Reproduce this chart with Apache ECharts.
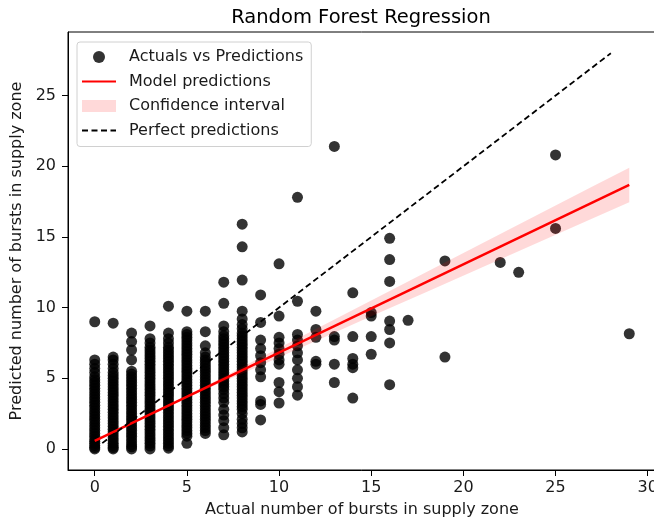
<!DOCTYPE html>
<html>
<head>
<meta charset="utf-8">
<script src="https://cdn.jsdelivr.net/npm/echarts@6/dist/echarts.min.js"></script>
<style>
  html, body { margin: 0; padding: 0; background: #fff; }
  #main { width: 654px; height: 524px; }
</style>
</head>
<body>
<div id="main"></div>
<script>
// predicted values for each actual number of bursts
var pred0 = [0, 0.1, 0.25, 0.4, 0.55, 0.7, 0.9, 1.1, 1.3, 1.5, 1.7, 1.9, 2.1, 2.3, 2.5, 2.7, 2.9, 3.1, 3.3, 3.5, 3.7, 3.9, 4.1, 4.3, 4.5, 4.7, 4.9, 5.1, 5.4, 5.7, 6.0, 6.3, 9.0];
var pred1 = [0, 0.1, 0.25, 0.4, 0.6, 0.8, 1.0, 1.2, 1.4, 1.6, 1.8, 2.0, 2.2, 2.4, 2.6, 2.8, 3.0, 3.2, 3.4, 3.6, 3.8, 4.0, 4.2, 4.4, 4.6, 4.8, 5.0, 5.2, 5.4, 5.7, 6.0, 6.3, 6.5, 8.9];
var pred2 = [0, 0.15, 0.3, 0.5, 0.7, 0.9, 1.1, 1.3, 1.5, 1.7, 1.9, 2.1, 2.3, 2.5, 2.7, 2.9, 3.1, 3.3, 3.5, 3.7, 3.9, 4.1, 4.3, 4.5, 4.7, 4.9, 5.1, 5.3, 5.5, 6.3, 7.0, 7.6, 8.2];
var pred3 = [0, 0.2, 0.4, 0.6, 0.8, 1.0, 1.2, 1.4, 1.6, 1.8, 2.0, 2.2, 2.4, 2.6, 2.8, 3.0, 3.2, 3.4, 3.6, 3.8, 4.0, 4.2, 4.4, 4.6, 4.8, 5.0, 5.2, 5.4, 5.6, 5.8, 6.0, 6.2, 6.4, 6.6, 6.8, 7.0, 7.2, 7.5, 7.8, 8.7];
var pred4 = [0.05, 0.2, 0.4, 0.6, 0.8, 1.0, 1.2, 1.4, 1.6, 1.8, 2.0, 2.2, 2.4, 2.6, 2.8, 3.0, 3.2, 3.4, 3.6, 3.8, 4.0, 4.2, 4.4, 4.6, 4.8, 5.0, 5.2, 5.4, 5.6, 5.8, 6.0, 6.2, 6.4, 6.6, 6.8, 7.0, 7.2, 7.5, 7.8, 8.2, 10.1];
var pred5 = [0.4, 0.9, 1.1, 1.3, 1.5, 1.7, 1.9, 2.1, 2.3, 2.5, 2.7, 2.9, 3.1, 3.3, 3.5, 3.7, 3.9, 4.1, 4.3, 4.5, 4.7, 4.9, 5.1, 5.3, 5.5, 5.7, 5.9, 6.1, 6.3, 6.5, 6.7, 6.9, 7.1, 7.3, 7.5, 7.7, 7.9, 8.1, 8.3, 9.75];
var pred6 = [1.1, 1.3, 1.5, 1.7, 1.9, 2.1, 2.3, 2.5, 2.7, 2.9, 3.1, 3.3, 3.5, 3.7, 3.9, 4.1, 4.3, 4.5, 4.7, 4.9, 5.1, 5.3, 5.5, 5.7, 5.9, 6.1, 6.3, 6.5, 6.8, 7.3, 8.3, 9.75];
var pred7 = [1.0, 1.5, 2.0, 2.4, 2.8, 3.3, 3.6, 3.9, 4.2, 4.4, 4.6, 4.8, 5.0, 5.2, 5.4, 5.6, 5.8, 6.0, 6.2, 6.4, 6.6, 6.8, 7.0, 7.2, 7.4, 7.6, 7.8, 8.0, 8.3, 8.7, 10.3, 11.8];
var pred8 = [1.2, 1.5, 1.8, 2.1, 2.5, 2.8, 3.0, 3.2, 3.4, 3.6, 3.8, 4.0, 4.2, 4.4, 4.6, 4.8, 5.0, 5.2, 5.4, 5.6, 5.8, 6.0, 6.2, 6.4, 6.6, 6.8, 7.0, 7.2, 7.4, 7.6, 7.8, 8.0, 8.2, 8.5, 8.8, 9.2, 9.75, 11.95, 14.3, 15.9];
var pred9 = [2.05, 3.15, 3.4, 5.1, 5.6, 6.1, 6.6, 7.1, 7.7, 8.95, 10.9];
var pred10 = [3.25, 4.05, 4.7, 6.0, 6.3, 6.7, 7.1, 7.5, 7.9, 9.4, 13.1];
var pred11 = [3.8, 4.4, 5.0, 5.6, 6.3, 6.8, 7.3, 7.7, 8.1, 10.45, 17.8];
var pred12 = [6.0, 6.2, 7.9, 8.45, 9.75];
var pred13 = [4.7, 6.0, 7.7, 7.95, 21.4];
var pred14 = [3.6, 5.75, 6.0, 6.4, 7.95, 11.05];
var pred15 = [6.7, 7.95, 9.4, 9.65];
var pred16 = [4.55, 7.5, 8.45, 9.05, 11.85, 13.4, 14.9];
var pred17 = [9.1];
var pred19 = [6.5, 13.3];
var pred22 = [13.2];
var pred23 = [12.5];
var pred25 = [15.6, 20.8];
var pred29 = [8.15];

var actualValues = [0, 1, 2, 3, 4, 5, 6, 7, 8, 9, 10, 11, 12, 13, 14, 15, 16, 17, 19, 22, 23, 25, 29];
var predictedColumns = [pred0, pred1, pred2, pred3, pred4, pred5, pred6, pred7, pred8, pred9, pred10, pred11,
  pred12, pred13, pred14, pred15, pred16, pred17, pred19, pred22, pred23, pred25, pred29];

// fitted line and its confidence band
var fitX = [0, 29];
var fitY = [0.57, 18.68];
var bandX = [0, 3, 6, 9, 12, 15, 18, 21, 24, 27, 29];
var bandLow = [0.49, 2.40, 4.20, 5.91, 7.64, 9.38, 11.10, 12.83, 14.57, 16.30, 17.46];
var bandHigh = [0.65, 2.48, 4.44, 6.47, 8.48, 10.50, 12.52, 14.53, 16.55, 18.56, 19.90];

// perfect predictions
var perfectX = [0, 28];
var perfectY = [0, 28];

var xTicks = [0, 5, 10, 15, 20, 25, 30];
var yTicks = [0, 5, 10, 15, 20, 25];

var scatterData = [];
for (var i = 0; i < actualValues.length; i++) {
  for (var j = 0; j < predictedColumns[i].length; j++) {
    scatterData.push([actualValues[i], predictedColumns[i][j]]);
  }
}
var fitData = fitX.map(function (x, k) { return [x, fitY[k]]; });
var perfectData = perfectX.map(function (x, k) { return [x, perfectY[k]]; });
var bandData = bandX.map(function (x, k) { return [x, bandLow[k], bandHigh[k]]; });

var font = "DejaVu Sans";
var chart = echarts.init(document.getElementById("main"));

chart.setOption({
  animation: false,
  textStyle: { fontFamily: font },
  title: {
    text: "Random Forest Regression",
    left: 361,
    top: 8,
    padding: 0,
    textAlign: "center",
    textStyle: { fontFamily: font, fontSize: 19.5, fontWeight: "normal", color: "#000" }
  },
  legend: {
    orient: "vertical",
    left: 77,
    top: 42,
    padding: [7, 8, 8, 4],
    itemGap: 8.5,
    itemWidth: 34,
    itemHeight: 12,
    borderColor: "#d0d0d0",
    borderWidth: 1,
    borderRadius: 3,
    backgroundColor: "rgba(255,255,255,0.8)",
    textStyle: { fontFamily: font, fontSize: 16, lineHeight: 16, color: "#1a1a1a", padding: [0, 0, 0, 8] },
    data: [
      { name: "Actuals vs Predictions", icon: "circle" },
      { name: "Model predictions", itemStyle: { opacity: 0 } },
      { name: "Confidence interval", icon: "rect" },
      { name: "Perfect predictions", itemStyle: { opacity: 0 } }
    ]
  },
  grid: {
    left: 68, top: 32, width: 588, height: 438,
    outerBoundsMode: "none",
    show: true, borderColor: "#000", borderWidth: 1
  },
  xAxis: {
    type: "value",
    min: -1.45,
    max: 30.45,
    name: "Actual number of bursts in supply zone",
    nameLocation: "middle",
    nameGap: 32,
    nameTextStyle: { fontFamily: font, fontSize: 16, color: "#1a1a1a" },
    splitLine: { show: false },
    axisLine: { show: true, onZero: false, lineStyle: { color: "#000" } },
    axisTick: { show: true, length: 6, lineStyle: { color: "#000" }, customValues: xTicks },
    axisLabel: { fontFamily: font, fontSize: 16, color: "#1a1a1a", margin: 10, customValues: xTicks }
  },
  yAxis: {
    type: "value",
    min: -1.49,
    max: 29.5,
    name: "Predicted number of bursts in supply zone",
    nameLocation: "middle",
    nameGap: 39,
    nameTextStyle: { fontFamily: font, fontSize: 16, color: "#1a1a1a" },
    splitLine: { show: false },
    axisLine: { show: true, onZero: false, lineStyle: { color: "#000" } },
    axisTick: { show: true, length: 6, lineStyle: { color: "#000" }, customValues: yTicks },
    axisLabel: { fontFamily: font, fontSize: 16, color: "#1a1a1a", margin: 12, customValues: yTicks }
  },
  series: [
    {
      name: "Actuals vs Predictions",
      type: "scatter",
      symbolSize: 11,
      itemStyle: { color: "#000", opacity: 0.8 },
      data: scatterData,
      z: 2
    },
    {
      name: "Confidence interval",
      type: "custom",
      itemStyle: { color: "rgba(255,0,0,0.15)" },
      encode: { x: 0, y: [1, 2] },
      data: bandData,
      z: 3,
      renderItem: function (params, api) {
        if (params.dataIndex !== 0) return;
        var pts = [];
        for (var k = 0; k < bandX.length; k++) pts.push(api.coord([bandX[k], bandHigh[k]]));
        for (var m = bandX.length - 1; m >= 0; m--) pts.push(api.coord([bandX[m], bandLow[m]]));
        return { type: "polygon", shape: { points: pts }, style: { fill: "rgba(255,0,0,0.15)" } };
      }
    },
    {
      name: "Model predictions",
      type: "line",
      symbol: "none",
      lineStyle: { color: "#ff0000", width: 2.5 },
      itemStyle: { color: "#ff0000" },
      data: fitData,
      z: 4
    },
    {
      name: "Perfect predictions",
      type: "line",
      symbol: "none",
      lineStyle: { color: "#000", width: 1.8, type: [6, 3.5] },
      itemStyle: { color: "#000" },
      data: perfectData,
      z: 5
    }
  ]
});
</script>
</body>
</html>
